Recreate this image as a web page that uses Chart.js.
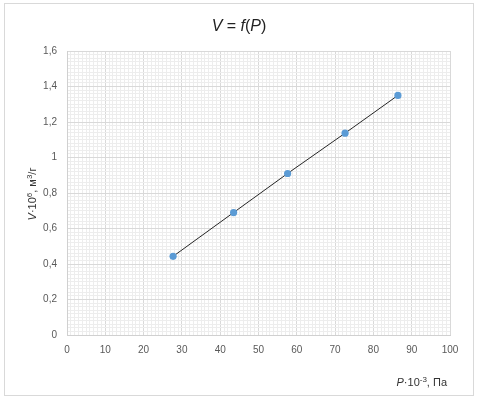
<!DOCTYPE html>
<html>
<head>
<meta charset="utf-8">
<script src="https://cdn.jsdelivr.net/npm/chart.js@4.4.1/dist/chart.umd.min.js"></script>
<style>
body{margin:0;background:#fff;}
#wrap{position:relative;width:481px;height:397px;}
#frame{position:absolute;left:4px;top:3px;width:468px;height:391px;border:1px solid #d9d9d9;pointer-events:none;}
</style>
</head>
<body>
<div id="wrap">
<canvas id="chart" width="481" height="397"></canvas>
<div id="frame"></div>
</div>
<script>
// data
const pressure = [27.7, 43.5, 57.6, 72.6, 86.4];   // P·10^-3, Pa
const volume = [0.443, 0.69, 0.91, 1.137, 1.35];    // V·10^6, m3/g

// axes
const xMin = 0, xMax = 100, xMajor = 10, xMinor = 1;
const yMin = 0, yMax = 1.6, yMajor = 0.2, yMinor = 0.02;

const majorGrid = "#d9d9d9";
const minorGrid = "#ededed";
const tickColor = "#595959";
const FONT = "'Liberation Sans', Arial, sans-serif";

function isMajor(v, major){
  let r = Math.round(v / major * 1000) / 1000;
  return Math.abs(r - Math.round(r)) < 1e-6;
}

/* draws text pieces: i = italic, s = superscript */
function drawPieces(ctx, pieces, size, x, y, align){
  let w = 0;
  const fontOf = p => (p.i ? "italic " : "") + (p.s ? Math.round(size*0.72) : size) + "px " + FONT;
  pieces.forEach(p=>{
    ctx.font = fontOf(p);
    p.w = ctx.measureText(p.t).width;
    w += p.w;
  });
  let cx = align === "right" ? x - w : x - w/2;
  ctx.textAlign = "left";
  ctx.textBaseline = "alphabetic";
  pieces.forEach(p=>{
    ctx.font = fontOf(p);
    ctx.fillText(p.t, cx, p.s ? y - size*0.38 : y);
    cx += p.w;
  });
}

const labelsPlugin = {
  id: "labels",
  afterDraw(chart){
    const ctx = chart.ctx;
    ctx.save();
    ctx.fillStyle = "#222";
    drawPieces(ctx, [{t:"V",i:true},{t:" = "},{t:"f",i:true},{t:"("},{t:"P",i:true},{t:")"}], 16, 239, 31, "center");

    ctx.fillStyle = "#333";
    drawPieces(ctx, [{t:"P",i:true},{t:"·10"},{t:"-3",s:true},{t:", Па"}], 11, 447, 386, "right");

    ctx.translate(36, 194);
    ctx.rotate(-Math.PI/2);
    drawPieces(ctx, [{t:"V",i:true},{t:"·10"},{t:"6",s:true},{t:", м"},{t:"3",s:true},{t:"/г"}], 11, 0, 0, "center");
    ctx.restore();
  }
};

new Chart(document.getElementById("chart").getContext("2d"),{
  type:"scatter",
  data:{
    datasets:[{
      data: pressure.map((p,i)=>({x:p, y:volume[i]})),
      showLine:true,
      borderColor:"#262626",
      borderWidth:1,
      pointRadius:3.6,
      pointHoverRadius:3.6,
      pointBackgroundColor:"#5b9bd5",
      pointBorderColor:"#5b9bd5",
      pointBorderWidth:0
    }]
  },
  options:{
    responsive:false,
    animation:false,
    layout:{padding:{left:0, top:51, right:31, bottom:0}},
    plugins:{legend:{display:false}, tooltip:{enabled:false}, title:{display:false}},
    scales:{
      x:{
        type:"linear",
        min:xMin, max:xMax,
        afterFit(scale){ scale.height = 62; },
        border:{color:"#d0d0d0"},
        grid:{
          drawTicks:false,
          color: c => (c.tick && isMajor(c.tick.value, xMajor)) ? majorGrid : minorGrid
        },
        ticks:{
          stepSize:xMinor,
          autoSkip:false,
          maxRotation:0,
          padding:9,
          color:tickColor,
          font:{family:FONT, size:10},
          callback: v => isMajor(v, xMajor) ? String(Math.round(v)) : ""
        }
      },
      y:{
        type:"linear",
        min:yMin, max:yMax,
        afterFit(scale){ scale.width = 67; },
        border:{color:"#d0d0d0"},
        grid:{
          drawTicks:false,
          color: c => (c.tick && isMajor(c.tick.value, yMajor)) ? majorGrid : minorGrid
        },
        ticks:{
          stepSize:yMinor,
          autoSkip:false,
          padding:10,
          color:tickColor,
          font:{family:FONT, size:10},
          callback: v => isMajor(v, yMajor) ? String(Math.round(v*10)/10).replace(".", ",") : ""
        }
      }
    }
  },
  plugins:[labelsPlugin]
});
</script>
</body>
</html>
